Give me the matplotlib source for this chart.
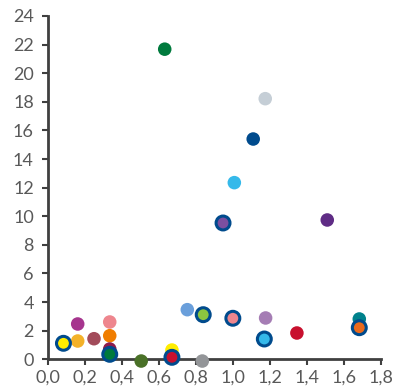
import matplotlib
matplotlib.use("Agg")
import matplotlib.pyplot as plt
from matplotlib.ticker import FuncFormatter

# plain points
x_plain = [0.162, 0.162, 0.25, 0.335, 0.335, 0.335, 0.505, 0.671, 0.754, 0.835,
           1.177, 1.346, 1.683, 0.632, 1.175, 1.11, 1.008, 1.51]
y_plain = [1.28, 2.47, 1.44, 2.61, 1.65, 0.72, -0.12, 0.65, 3.47, -0.12,
           2.89, 1.84, 2.82, 21.68, 18.22, 15.4, 12.35, 9.74]
c_plain = ["#F3B129", "#A6358E", "#A24B5A", "#EE868E", "#F07D00", "#8E1B4D",
           "#4A7128", "#FFED00", "#6A9FDB", "#939598", "#A57DB4", "#C8102E",
           "#00828C", "#007A3D", "#C5CED6", "#004B8D", "#35B9EA", "#5F2C85"]

# points with a navy ring
x_ring = [0.085, 0.335, 0.671, 0.84, 1.0, 1.17, 1.683, 0.947]
y_ring = [1.12, 0.35, 0.14, 3.12, 2.87, 1.42, 2.21, 9.53]
c_ring = ["#FFED00", "#007A3D", "#C8102E", "#8CC63F", "#EE868E", "#35B9EA",
          "#EA6A1C", "#7B4FA0"]

x_ticks = [0.0, 0.2, 0.4, 0.6, 0.8, 1.0, 1.2, 1.4, 1.6, 1.8]
y_ticks = list(range(0, 25, 2))

plt.rcParams['font.family'] = ['Lato', 'DejaVu Sans']

fig = plt.figure(figsize=(4.01, 3.89), dpi=100)
ax = fig.add_axes([0.119, 0.0763, 0.831, 0.8826])

ax.scatter(x_plain, y_plain, s=95, c=c_plain, linewidths=0, clip_on=False, zorder=3)
ax.scatter(x_ring, y_ring, s=100, c=c_ring, edgecolors="#004B8D", linewidths=2.2,
           clip_on=False, zorder=4)

ax.set_xlim(0, 1.8)
ax.set_ylim(0, 24)
ax.set_xticks(x_ticks)
ax.set_yticks(y_ticks)
ax.xaxis.set_major_formatter(FuncFormatter(lambda v, p: f"{v:.1f}".replace(".", ",")))

for s in ["top", "right"]:
    ax.spines[s].set_visible(False)
for s in ["left", "bottom"]:
    ax.spines[s].set_color("#404040")
    ax.spines[s].set_linewidth(2)
ax.tick_params(colors="#404040", width=1.5, length=4, labelsize=13, labelcolor="#595959")
ax.tick_params(axis="y", pad=6)

fig.savefig("out.png", dpi=100)
